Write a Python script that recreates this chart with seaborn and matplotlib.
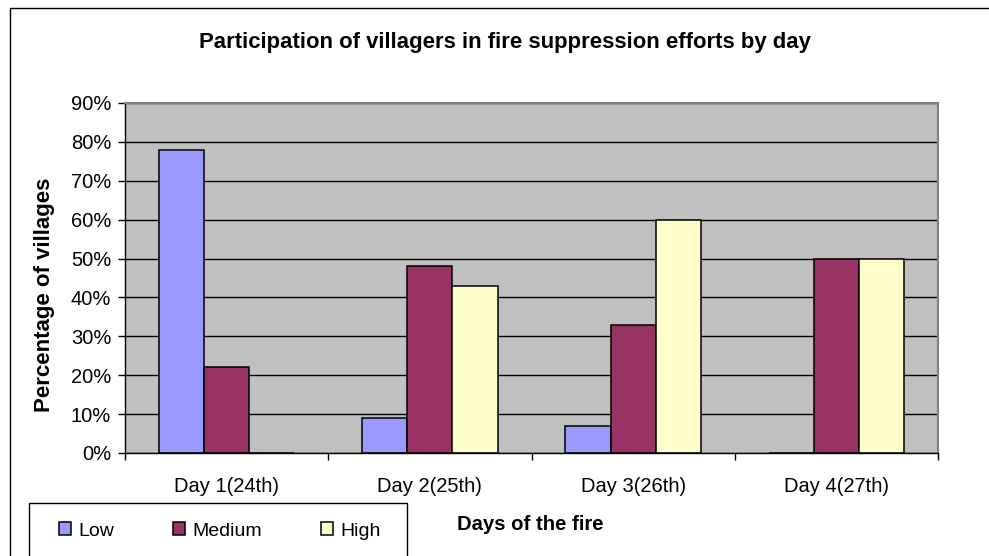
import numpy as np
import pandas as pd
import matplotlib
matplotlib.use("Agg")
import matplotlib.pyplot as plt
from matplotlib.patches import Rectangle
from matplotlib.ticker import PercentFormatter, FixedLocator
import seaborn as sns

# данные (проценты)
days = ["Day 1(24th)", "Day 2(25th)", "Day 3(26th)", "Day 4(27th)"]
levels = ["Low", "Medium", "High"]
low = [78, 9, 7, 0]
medium = [22, 48, 33, 50]
high = [0, 43, 60, 50]
colors = ["#9999FF", "#993366", "#FFFFCC"]

df = pd.DataFrame({
    "day": days * 3,
    "level": np.repeat(levels, len(days)),
    "value": low + medium + high,
})

plt.rcParams["font.family"] = ["Liberation Sans", "DejaVu Sans"]

fig = plt.figure(figsize=(9.89, 5.56), dpi=100)
ax = fig.add_axes([125 / 989, 1 - 453 / 556, 813 / 989, 350 / 556])

sns.barplot(data=df, x="day", y="value", hue="level", order=days, hue_order=levels,
            palette=dict(zip(levels, colors)), width=0.666, edgecolor="black",
            linewidth=1.1, saturation=1, ax=ax)

handles, labels = ax.get_legend_handles_labels()
ax.legend_.remove()

ax.set_facecolor("#C0C0C0")
ax.set_ylim(0, 90)
ax.set_xlim(-0.5, 3.5)
ax.set_yticks(np.arange(0, 91, 10))
ax.yaxis.set_major_formatter(PercentFormatter(xmax=100, decimals=0))
ax.grid(axis="y", color="black", linewidth=1)
ax.grid(axis="x", visible=False)
ax.set_axisbelow(True)

# деления на границах категорий, подписи по центрам
ax.xaxis.set_major_locator(FixedLocator([-0.5, 0.5, 1.5, 2.5, 3.5]))
ax.xaxis.set_minor_locator(FixedLocator([0, 1, 2, 3]))
ax.set_xticklabels([], minor=False)
ax.set_xticklabels(days, minor=True)
ax.tick_params(axis="x", which="major", length=5, width=1, color="black", direction="out")
ax.tick_params(axis="x", which="minor", length=0, pad=17.5, labelsize=14.5)
ax.tick_params(axis="y", length=5, width=1, color="black", pad=5, labelsize=14.5)

for side in ["left", "bottom"]:
    ax.spines[side].set_color("black")
    ax.spines[side].set_linewidth(1)
for side in ["top", "right"]:
    ax.spines[side].set_color("#808080")
    ax.spines[side].set_linewidth(1.5)

ax.set_xlabel("Days of the fire", fontsize=14.6, fontweight="bold")
ax.xaxis.set_label_coords(0.499, (453 - 530) / 350)
ax.xaxis.label.set_va("baseline")
ax.set_ylabel("Percentage of villages", fontsize=16, fontweight="bold")
ax.yaxis.set_label_coords(-0.099, 0.451)
ax.yaxis.label.set_va("center")

fig.text(505 / 989, 1 - 48 / 556, "Participation of villagers in fire suppression efforts by day",
         ha="center", va="baseline", fontsize=15.9, fontweight="bold")

# рамки: внешняя и легенды (уходят за край картинки)
fig.add_artist(Rectangle((10 / 989, -0.1), 1.2, 1.1 - 8 / 556, transform=fig.transFigure,
                         fill=False, edgecolor="black", linewidth=1))
fig.add_artist(Rectangle((29 / 989, -0.1), 378 / 989, 0.1 + 1 - 503 / 556,
                         transform=fig.transFigure, fill=False, edgecolor="black", linewidth=1))

fig.legend(handles, labels, loc="center left", bbox_to_anchor=(59 / 989, 1 - 531 / 556),
           bbox_transform=fig.transFigure, ncol=3, frameon=False, fontsize=14,
           handlelength=0.62, handleheight=0.62, handletextpad=0.4, columnspacing=3.0,
           borderpad=0, borderaxespad=0)

fig.savefig("out.png", dpi=100)
